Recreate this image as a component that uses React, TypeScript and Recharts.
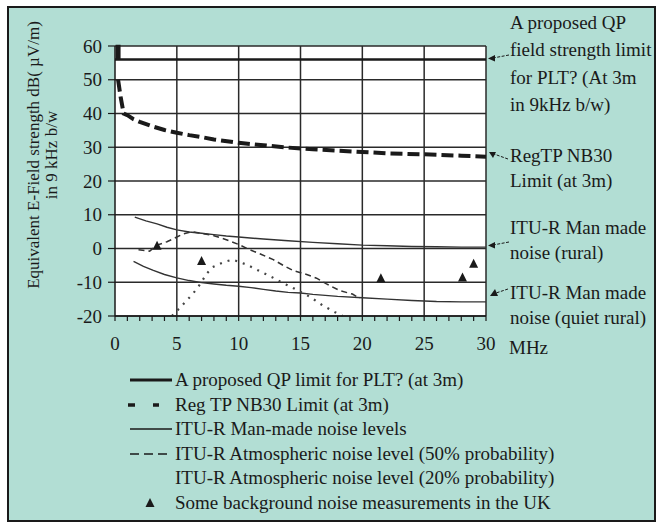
import { ComposedChart, Line, XAxis, YAxis, CartesianGrid, ReferenceLine } from 'recharts';

// frequency (MHz) / level (dB uV/m) pairs
const qpFreq = [0, 0.15, 0.15, 0.35, 0.35, 30];
const qpLevel = [56, 56, 60, 60, 56, 56];

const nb30Freq = [0.25, 0.45, 0.7, 1, 1.5, 2, 3, 4, 5, 6, 7, 8, 10, 12, 14, 16, 18, 20, 22, 25, 28, 30];
const nb30Level = [50, 45, 40, 39.5, 38.3, 37.5, 36.2, 35.1, 34.3, 33.6, 33, 32.3, 31.3, 30.6, 29.9, 29.4, 29, 28.6, 28.2, 27.9, 27.5, 27.2];

const ruralFreq = [1.6, 2.5, 3.4, 4.2, 5, 6, 7, 8, 9, 10, 12, 14, 16, 18, 20, 22, 24, 26, 28, 30];
const ruralLevel = [9.3, 8.2, 7.3, 6.3, 5.5, 4.9, 4.5, 4.1, 3.7, 3.4, 2.8, 2.3, 1.8, 1.4, 1, 0.8, 0.6, 0.5, 0.4, 0.4];

const quietFreq = [1.5, 2.3, 3.1, 4, 5, 6, 7, 8, 9, 10, 11, 12, 13, 14, 15, 16, 18, 20, 22, 24, 26, 28, 30];
const quietLevel = [-3.8, -5.3, -6.5, -7.7, -8.7, -9.5, -10.1, -10.5, -10.9, -11.2, -11.6, -12.1, -12.6, -13, -13.2, -13.6, -14.2, -14.6, -15, -15.4, -15.7, -15.8, -15.8];

const atm50Freq = [1.9, 2.8, 3.4, 4.2, 5, 5.5, 6.2, 7, 8, 9, 10, 10.8, 11.8, 12.8, 13.6, 14.4, 15.5, 16.3, 17.1, 18.2, 19.2, 19.8];
const atm50Level = [-0.4, -0.8, 1, 2, 3.4, 4.3, 5, 4.5, 3.8, 2.6, 1.2, -0.2, -1.7, -3.3, -5, -6.5, -7.7, -8.8, -10.5, -12.5, -13.5, -14.8];

const atm20Freq = [4.6, 5.3, 5.8, 6.3, 6.9, 7.4, 7.9, 8.8, 9.5, 10.6, 11.7, 12.7, 13.6, 14.3, 15.8, 16.8, 17.8, 18.4];
const atm20Level = [-20, -17.4, -15.4, -13.4, -10.5, -7.5, -5.5, -4, -3.3, -4.7, -6.7, -8.5, -10.3, -11.5, -14.4, -16.9, -18.9, -20];

const measFreq = [3.4, 7, 21.5, 28.1, 29];
const measLevel = [0.8, -3.7, -8.8, -8.6, -4.5];

const xTicks = Array.from({ length: 31 }, (_, i) => i);
const xGrid = [5, 10, 15, 20, 25, 30];
const yTicks = [-20, -10, 0, 10, 20, 30, 40, 50, 60];

const legendLabels = [
  'A proposed QP limit for PLT? (at 3m)',
  'Reg TP NB30 Limit (at 3m)',
  'ITU-R Man-made noise levels',
  'ITU-R Atmospheric noise level (50% probability)',
  'ITU-R Atmospheric noise level (20% probability)',
  'Some background noise measurements in the UK',
];

const toPoints = (xs: number[], ys: number[]) => xs.map((x, i) => ({ x, y: ys[i] }));

const FONT = 'Liberation Serif, DejaVu Serif, serif';
const INK = '#1a1a1a';
const TEAL = '#b2ded4';

function Triangle(props: any) {
  const { cx, cy } = props;
  if (cx == null || cy == null) return null;
  return <path d={`M${cx},${cy - 5} L${cx + 4.5},${cy + 4} L${cx - 4.5},${cy + 4} Z`} fill={INK} />;
}

function YLabel() {
  return (
    <g fontFamily={FONT} fontSize={17} fill={INK}>
      <text transform="translate(33,155) rotate(-90)" textAnchor="middle" dominantBaseline="central">
        Equivalent E-Field strength dB( µV/m)
      </text>
      <text transform="translate(51,155) rotate(-90)" textAnchor="middle" dominantBaseline="central">
        in 9 kHz b/w
      </text>
    </g>
  );
}

function Swatch({ i }: { i: number }) {
  const y = 12;
  if (i === 0) return <line x1={2} x2={44} y1={y} y2={y} stroke={INK} strokeWidth={3} />;
  if (i === 1)
    return (
      <g stroke={INK} strokeWidth={3.5}>
        <line x1={0} x2={7} y1={y} y2={y} />
        <line x1={25} x2={31} y1={y} y2={y} />
      </g>
    );
  if (i === 2) return <line x1={2} x2={44} y1={y} y2={y} stroke={INK} strokeWidth={1.5} />;
  if (i === 3) return <line x1={2} x2={40} y1={y} y2={y} stroke={INK} strokeWidth={1.5} strokeDasharray="9 5" />;
  if (i === 5) return <path d={`M22,${y - 5} L26.5,${y + 4} L17.5,${y + 4} Z`} fill={INK} />;
  return null;
}

export default function App() {
  const annot = [
    { y: 22, t: 'A proposed QP' },
    { y: 49, t: 'field strength limit' },
    { y: 77, t: 'for PLT? (At 3m' },
    { y: 104, t: 'in 9kHz b/w)' },
    { y: 155, t: 'RegTP NB30' },
    { y: 180, t: 'Limit (at 3m)' },
    { y: 227, t: 'ITU-R Man made' },
    { y: 252, t: 'noise (rural)' },
    { y: 292, t: 'ITU-R Man made' },
    { y: 317, t: 'noise (quiet rural)' },
  ];
  return (
    <div style={{ position: 'absolute', left: 0, top: 0, width: 661, height: 527, background: '#fff', fontFamily: FONT }}>
      <div
        style={{
          position: 'absolute',
          left: 7,
          top: 6,
          width: 645,
          height: 512,
          background: TEAL,
          border: `2px solid ${INK}`,
        }}
      />
      <div style={{ position: 'absolute', left: 0, top: 0 }}>
        <ComposedChart width={661} height={527} margin={{ top: 46, right: 175, bottom: 181, left: 55 }}>
          <CartesianGrid vertical={false} fill="#ffffff" stroke="#2a2a2a" strokeWidth={1.5} />
          {xGrid.map((v) => (
            <ReferenceLine key={v} x={v} stroke="#2a2a2a" strokeWidth={1.5} />
          ))}
          <XAxis
            type="number"
            dataKey="x"
            domain={[0, 30]}
            ticks={xTicks}
            interval={0}
            tickFormatter={(v: number) => (v % 5 === 0 ? String(v) : '')}
            tickSize={5}
            tickMargin={16}
            height={30}
            axisLine={{ stroke: INK, strokeWidth: 1.5 }}
            tickLine={{ stroke: INK, strokeWidth: 1.2 }}
            tick={{ fill: INK, fontSize: 19, fontFamily: FONT }}
          />
          <YAxis
            type="number"
            domain={[-20, 60]}
            ticks={yTicks}
            interval={0}
            width={60}
            tickSize={7}
            tickMargin={6}
            axisLine={{ stroke: INK, strokeWidth: 1.5 }}
            tickLine={{ stroke: INK, strokeWidth: 1.2 }}
            tick={{ fill: INK, fontSize: 19, fontFamily: FONT }}
          />
          <Line data={toPoints(ruralFreq, ruralLevel)} dataKey="y" stroke="#333" strokeWidth={1.4} dot={false} isAnimationActive={false} />
          <Line data={toPoints(quietFreq, quietLevel)} dataKey="y" stroke="#333" strokeWidth={1.4} dot={false} isAnimationActive={false} />
          <Line data={toPoints(atm50Freq, atm50Level)} dataKey="y" stroke="#333" strokeWidth={1.5} strokeDasharray="6 4" dot={false} isAnimationActive={false} />
          <Line data={toPoints(atm20Freq, atm20Level)} dataKey="y" stroke="#444" strokeWidth={2.2} strokeDasharray="2 6" dot={false} isAnimationActive={false} />
          <Line data={toPoints(qpFreq, qpLevel)} dataKey="y" stroke={INK} strokeWidth={2.5} dot={false} isAnimationActive={false} />
          <Line data={toPoints(nb30Freq, nb30Level)} dataKey="y" stroke={INK} strokeWidth={4} strokeDasharray="12 5" dot={false} isAnimationActive={false} />
          <Line data={toPoints(measFreq, measLevel)} dataKey="y" stroke="none" dot={<Triangle />} isAnimationActive={false} />
        </ComposedChart>
      </div>
      <svg width={661} height={527} style={{ position: 'absolute', left: 0, top: 0, pointerEvents: 'none' }}>
        <YLabel />
        <text x={509} y={347} fontSize={19} fontFamily={FONT} fill={INK} dominantBaseline="central">
          MHz
        </text>
        <g fontSize={19} fontFamily={FONT} fill={INK}>
          {annot.map((a, i) => (
            <text key={i} x={510} y={a.y} dominantBaseline="central">
              {a.t}
            </text>
          ))}
        </g>
        <g stroke={INK} strokeWidth={1} fill="none" strokeDasharray="3 1.5">
          <line x1={509} y1={55} x2={493} y2={58} />
          <line x1={508} y1={159} x2={494} y2={154} />
          <line x1={509} y1={242} x2={493} y2={245} />
          <line x1={508} y1={289} x2={496} y2={293} />
        </g>
        <g fill={INK}>
          <path d="M488,58.5 L495,55 L495,61.5 Z" />
          <path d="M489,152 L496,152 L493,158 Z" />
          <path d="M488,245.5 L495,242 L495,248.5 Z" />
          <path d="M490,296 L495,289 L498,296 Z" />
        </g>
      </svg>
      <div style={{ position: 'absolute', left: 128, top: 368 }}>
        {legendLabels.map((label, i) => (
          <div key={i} style={{ display: 'flex', alignItems: 'center', height: 24.5 }}>
            <svg width={47} height={24}>
              <Swatch i={i} />
            </svg>
            <span style={{ fontSize: 19, color: INK, whiteSpace: 'nowrap', lineHeight: '24px' }}>{label}</span>
          </div>
        ))}
      </div>
    </div>
  );
}
